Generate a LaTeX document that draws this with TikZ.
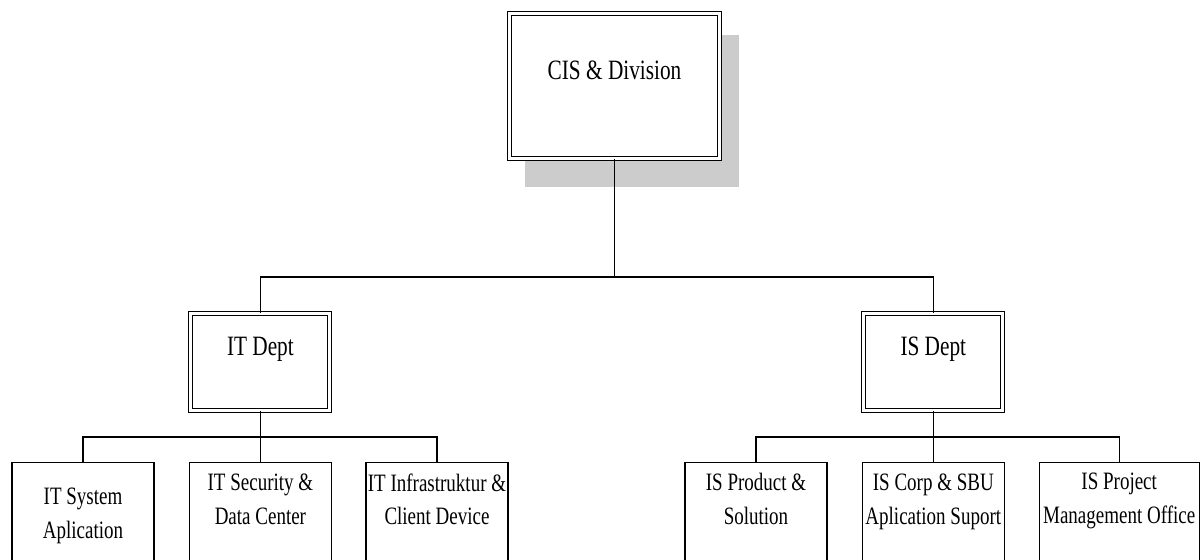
\documentclass[tikz,border=0pt]{standalone}
\usepackage{fontspec}
\setmainfont{Liberation Serif}[FakeStretch=0.76]
\usetikzlibrary{positioning}

\begin{document}
\begin{tikzpicture}[x = 0.5pt, y = -0.5pt,
	unit/.style = {draw, fill = white, line width = 0.7pt, minimum width = 71pt, minimum height = 68.7pt, inner sep = 0pt},
	dept/.style = {draw, fill = white, double, line width = 0.5pt, double distance = 1.5pt, inner sep = 0pt, minimum width = 69.5pt, minimum height = 48.3pt},
	lbl/.style = {inner sep = 0pt, align = center, font = \fontsize{12.5}{17}\selectfont},
	big/.style = {inner sep = 0pt, font = \fontsize{14}{17}\selectfont},
	link/.style = {line width = 0.7pt}]

	% Frame
	
	\useasboundingbox (0, 0) rectangle (1200, 560);
	\clip (0, 0) rectangle (1200, 560);

	% Division with shadow
	
	\fill [gray!40] (525, 35) rectangle (739, 187);
	\node [dept, minimum width = 104.8pt, minimum height = 72.75pt] (cis) at (614.5, 86) {};
	\node [big, below = 23.7pt of cis.north] (cistxt) {CIS \& Division};

	% Departments
	
	\node [dept] (itd) at (260.4, 362.2) {};
	\node [big, below = 11.7pt of itd.north] (itdtxt) {IT Dept};
	\node [dept] (isd) at (933.3, 362.2) {};
	\node [big, below = 11.7pt of isd.north] (isdtxt) {IS Dept};

	% Units
	
	\node [unit] (sys) at (83, 531.4) {};
	\node [unit] (sec) at (260.4, 531.4) {};
	\node [unit] (inf) at (437, 531.4) {};
	\node [unit] (prd) at (756, 531.4) {};
	\node [unit] (crp) at (933.3, 531.4) {};
	\node [unit, minimum width = 80pt] (pmo) at (1119.2, 531.4) {};
	
	\node [lbl, below = 12.9pt of sys.north] (systxt) {IT System\\Aplication};
	\node [lbl, below = 5.5pt of sec.north] (sectxt) {IT Security \&\\Data Center};
	\node [lbl, below = 5.5pt of inf.north] (inftxt) {IT Infrastruktur \&\\Client Device};
	\node [lbl, below = 5.5pt of prd.north] (prdtxt) {IS Product \&\\Solution};
	\node [lbl, below = 5.5pt of crp.north] (crptxt) {IS Corp \& SBU\\Aplication Suport};
	\node [lbl, below = 5.5pt of pmo.north] (pmotxt) {IS Project\\Management Office};

	% Connectors
	
	\coordinate (top) at (614.5, 277);
	\coordinate (itbus) at (260.4, 437);
	\coordinate (isbus) at (933.3, 437);
	
	\draw [link] (cis.south) -- (top);
	\draw [link] (top) -| (itd.north);
	\draw [link] (top) -| (isd.north);
	
	\draw [link] (itd.south) -- (sec.north);
	\draw [link] (itbus) -| (sys.north);
	\draw [link] (itbus) -| (inf.north);
	
	\draw [link] (isd.south) -- (crp.north);
	\draw [link] (isbus) -| (prd.north);
	\draw [link] (isbus) -| (pmo.north);

\end{tikzpicture}
\end{document}
